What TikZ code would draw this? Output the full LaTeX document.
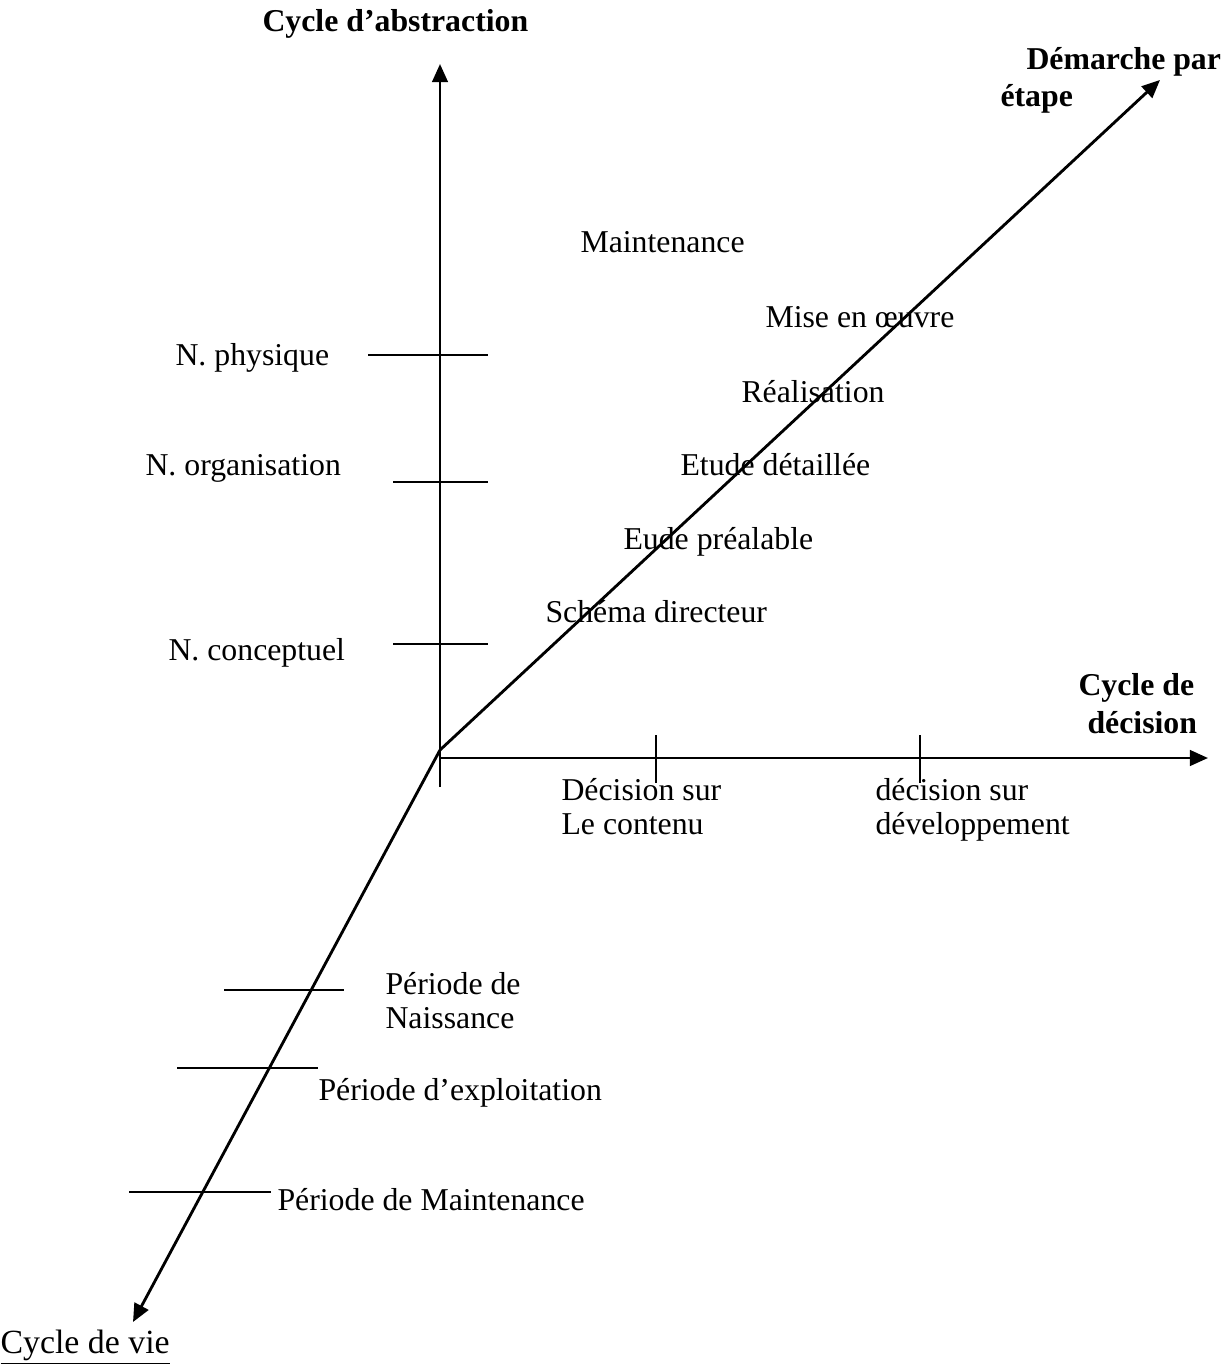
\documentclass[tikz,border=0pt]{standalone}
\usepackage{fontspec}
\setmainfont{Liberation Serif}
\usetikzlibrary{arrows.meta}

\begin{document}
\begin{tikzpicture}[x=0.387pt,y=-0.387pt,
	axis/.style={line width=1.1pt,-{Triangle[length=7pt,width=6pt]}},
	tick/.style={line width=0.8pt},
	lbl/.style={anchor=base west,inner sep=0pt,align=left,font=\fontsize{12.3}{12.8}\selectfont},
	ttl/.style={lbl,font=\fontsize{12.3}{12.8}\selectfont\bfseries}]
	\useasboundingbox (0,0) rectangle (1225,1365);

	% axes
	\coordinate (o) at (440,750);
	\coordinate (vbot) at (440,787);
	\coordinate (vtop) at (440,64);
	\coordinate (hleft) at (440,758);
	\coordinate (hright) at (1208,758);
	\coordinate (dtop) at (1160,80);
	\coordinate (dbot) at (133,1322);

	\draw[axis] (vbot) -- (vtop);
	\draw[axis] (hleft) -- (hright);
	\draw[axis] (o) -- (dtop);
	\draw[axis] (o) -- (dbot);

	% graduations
	\coordinate (p1a) at (368,355); \coordinate (p1b) at (488,355);
	\coordinate (p2a) at (393,482); \coordinate (p2b) at (488,482);
	\coordinate (p3a) at (393,644); \coordinate (p3b) at (488,644);
	\coordinate (d1a) at (656,735); \coordinate (d1b) at (656,783);
	\coordinate (d2a) at (920,735); \coordinate (d2b) at (920,783);
	\coordinate (v1a) at (224,990); \coordinate (v1b) at (344,990);
	\coordinate (v2a) at (177,1068); \coordinate (v2b) at (318,1068);
	\coordinate (v3a) at (129,1192); \coordinate (v3b) at (271,1192);
	\foreach \a/\b in {p1a/p1b,p2a/p2b,p3a/p3b,d1a/d1b,d2a/d2b,v1a/v1b,v2a/v2b,v3a/v3b}
		\draw[tick] (\a) -- (\b);

	% titres des axes
	\node[ttl] (abst) at (262,32) {Cycle d’abstraction};
	\node[ttl] (dem) at (1026,70) {Démarche par};
	\node[ttl] (etape) at (1000,107) {étape};
	\node[ttl] (dec1) at (1078,695) {Cycle de};
	\node[ttl] (dec2) at (1087,733) {décision};
	\node[lbl,font=\fontsize{13.1}{14}\selectfont] (vie) at (0,1353) {\underline{Cycle de vie}};

	% etapes
	\node[lbl] (maint) at (580,253) {Maintenance};
	\node[lbl] (mise) at (765,328) {Mise en œuvre};
	\node[lbl] (real) at (741,402) {Réalisation};
	\node[lbl] (etud) at (680,475) {Etude détaillée};
	\node[lbl] (prea) at (623,549) {Eude préalable};
	\node[lbl] (sch) at (545,622) {Schéma directeur};

	% niveaux
	\node[lbl] (phys) at (175,365) {N. physique};
	\node[lbl] (orga) at (145,475) {N. organisation};
	\node[lbl] (conc) at (168,660) {N. conceptuel};

	% decisions
	\node[lbl] (cont) at (561,834) {Décision sur\\Le contenu};
	\node[lbl] (dev) at (875,834) {décision sur\\développement};

	% periodes
	\node[lbl] (nais) at (385,1028) {Période de\\Naissance};
	\node[lbl] (expl) at (318,1100) {Période d’exploitation};
	\node[lbl] (pmaint) at (277,1210) {Période de Maintenance};
\end{tikzpicture}
\end{document}
